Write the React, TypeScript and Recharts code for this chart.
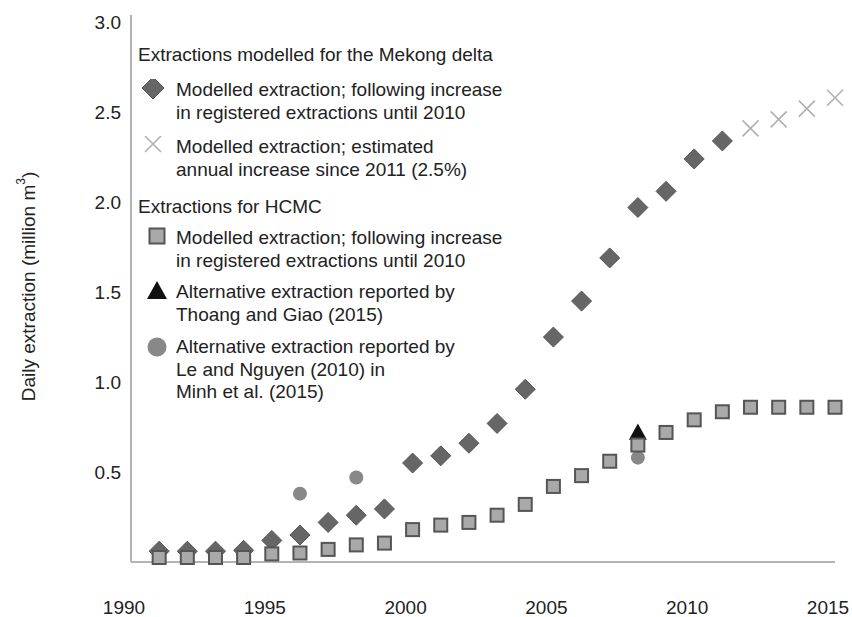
import { ScatterChart, Scatter, XAxis, YAxis, Legend } from 'recharts'

const FONT = '"Liberation Sans", Arial, Helvetica, sans-serif'

// Mekong delta, modelled from registered extractions (up to 2011)
const mekongYears = [1991, 1992, 1993, 1994, 1995, 1996, 1997, 1998, 1999, 2000, 2001, 2002, 2003, 2004, 2005, 2006, 2007, 2008, 2009, 2010, 2011]
const mekongValues = [0.06, 0.06, 0.06, 0.065, 0.12, 0.15, 0.22, 0.26, 0.295, 0.55, 0.59, 0.66, 0.77, 0.96, 1.25, 1.45, 1.69, 1.97, 2.06, 2.24, 2.34]

// Mekong delta, 2.5% annual increase after 2011
const projYears = [2012, 2013, 2014, 2015]
const projValues = [2.41, 2.46, 2.52, 2.58]

// HCMC modelled extraction
const hcmcYears = [1991, 1992, 1993, 1994, 1995, 1996, 1997, 1998, 1999, 2000, 2001, 2002, 2003, 2004, 2005, 2006, 2007, 2008, 2009, 2010, 2011, 2012, 2013, 2014, 2015]
const hcmcValues = [0.025, 0.025, 0.025, 0.025, 0.045, 0.05, 0.07, 0.095, 0.105, 0.18, 0.205, 0.22, 0.26, 0.32, 0.42, 0.48, 0.56, 0.65, 0.72, 0.79, 0.835, 0.86, 0.86, 0.86, 0.86]

// Alternative estimates for HCMC
const thoangYears = [2008]
const thoangValues = [0.72]
const leYears = [1996, 1998, 2008]
const leValues = [0.38, 0.47, 0.58]

const xTicks = [1990, 1995, 2000, 2005, 2010, 2015]
const yTicks = [0.5, 1.0, 1.5, 2.0, 2.5, 3.0]

const groupTitles = ['Extractions modelled for the Mekong delta', 'Extractions for HCMC']
const mekongLabel = ['Modelled extraction; following increase', 'in registered extractions until 2010']
const projLabel = ['Modelled extraction; estimated', 'annual increase since 2011 (2.5%)']
const hcmcLabel = ['Modelled extraction; following increase', 'in registered extractions until 2010']
const thoangLabel = ['Alternative extraction reported by', 'Thoang and Giao (2015)']
const leLabel = ['Alternative extraction reported by', 'Le and Nguyen (2010) in', 'Minh et al. (2015)']

const toPoints = (xs: number[], ys: number[]) => xs.map((x, i) => ({ x, y: ys[i] }))

const AXIS_COLOR = '#b3b3b3'
const TEXT_COLOR = '#222'

// marker shapes shared by plot and legend
const diamond = (cx: number, cy: number, r: number) => (
  <path d={`M${cx},${cy - r}L${cx + r},${cy}L${cx},${cy + r}L${cx - r},${cy}Z`} fill="#666" stroke="#575757" strokeWidth={1} />
)
const square = (cx: number, cy: number, s: number) => (
  <rect x={cx - s / 2} y={cy - s / 2} width={s} height={s} fill="#a9a9a9" stroke="#555" strokeWidth={2} />
)
const cross = (cx: number, cy: number, r: number) => (
  <path d={`M${cx - r},${cy - r}L${cx + r},${cy + r}M${cx - r},${cy + r}L${cx + r},${cy - r}`} stroke="#b0b0b0" strokeWidth={1.6} fill="none" />
)
const triangle = (cx: number, cy: number, r: number) => (
  <path d={`M${cx},${cy - r}L${cx + r},${cy + r * 0.8}L${cx - r},${cy + r * 0.8}Z`} fill="#111" />
)
const circle = (cx: number, cy: number, r: number) => <circle cx={cx} cy={cy} r={r} fill="#888" />

const LegendItem = ({ marker, lines, mt }: { marker: any; lines: string[]; mt: number }) => (
  <div style={{ display: 'flex', marginTop: mt }}>
    <svg width={38} height={22} style={{ flex: 'none' }}>{marker}</svg>
    <div>
      {lines.map((l) => (
        <div key={l} style={{ whiteSpace: 'nowrap' }}>{l}</div>
      ))}
    </div>
  </div>
)

const LegendBox = () => (
  <div style={{ fontFamily: FONT, fontSize: 19, color: TEXT_COLOR, lineHeight: '22.5px' }}>
    <div style={{ whiteSpace: 'nowrap' }}>{groupTitles[0]}</div>
    <LegendItem mt={12.5} marker={diamond(15, 9, 11)} lines={mekongLabel} />
    <LegendItem mt={12} marker={cross(15, 8, 8)} lines={projLabel} />
    <div style={{ marginTop: 15, whiteSpace: 'nowrap' }}>{groupTitles[1]}</div>
    <LegendItem mt={8.5} marker={square(19, 9, 15)} lines={hcmcLabel} />
    <LegendItem mt={9} marker={triangle(19, 10, 10)} lines={thoangLabel} />
    <LegendItem mt={10} marker={circle(19, 11, 9.5)} lines={leLabel} />
  </div>
)

const YLabel = ({ viewBox }: any) => {
  const cx = 28
  const cy = viewBox.y + viewBox.height / 2 - 2
  return (
    <text x={cx} y={cy} transform={`rotate(-90 ${cx} ${cy})`} textAnchor="middle" dominantBaseline="central"
      fontFamily={FONT} fontSize={19} fill={TEXT_COLOR}>
      Daily extraction (million m<tspan dy={-7} fontSize={12}>3</tspan><tspan dy={7}>)</tspan>
    </text>
  )
}

export default function App() {
  return (
    <div style={{ position: 'absolute', left: 0, top: 0, background: '#fff' }}>
      <ScatterChart width={852} height={617} margin={{ top: 15, right: 17, bottom: 0, left: 0 }}>
        <XAxis
          type="number"
          dataKey="x"
          domain={[1990, 2015]}
          ticks={xTicks}
          interval={0}
          tickLine={false}
          tickMargin={33}
          height={55}
          axisLine={{ stroke: AXIS_COLOR, strokeWidth: 2 }}
          tick={{ fontSize: 19, fill: TEXT_COLOR, fontFamily: FONT, dx: -7 }}
        />
        <YAxis
          type="number"
          dataKey="y"
          domain={[0, 3.04]}
          ticks={yTicks}
          interval={0}
          width={131}
          tickLine={false}
          tickMargin={4}
          tickFormatter={(v: number) => v.toFixed(1)}
          axisLine={{ stroke: AXIS_COLOR, strokeWidth: 2 }}
          tick={{ fontSize: 19, fill: TEXT_COLOR, fontFamily: FONT }}
          label={<YLabel />}
        />
        <Legend
          layout="horizontal"
          verticalAlign="middle"
          align="center"
          content={<LegendBox />}
          wrapperStyle={{ left: 138, top: 44, width: 'auto' }}
        />
        <Scatter data={toPoints(mekongYears, mekongValues)} isAnimationActive={false}
          shape={(p: any) => diamond(p.cx, p.cy, 10)} />
        <Scatter data={toPoints(projYears, projValues)} isAnimationActive={false}
          shape={(p: any) => cross(p.cx, p.cy, 8)} />
        <Scatter data={toPoints(thoangYears, thoangValues)} isAnimationActive={false}
          shape={(p: any) => triangle(p.cx, p.cy, 9)} />
        <Scatter data={toPoints(leYears, leValues)} isAnimationActive={false}
          shape={(p: any) => circle(p.cx, p.cy, 7)} />
        <Scatter data={toPoints(hcmcYears, hcmcValues)} isAnimationActive={false}
          shape={(p: any) => square(p.cx, p.cy, 13)} />
      </ScatterChart>
    </div>
  )
}
